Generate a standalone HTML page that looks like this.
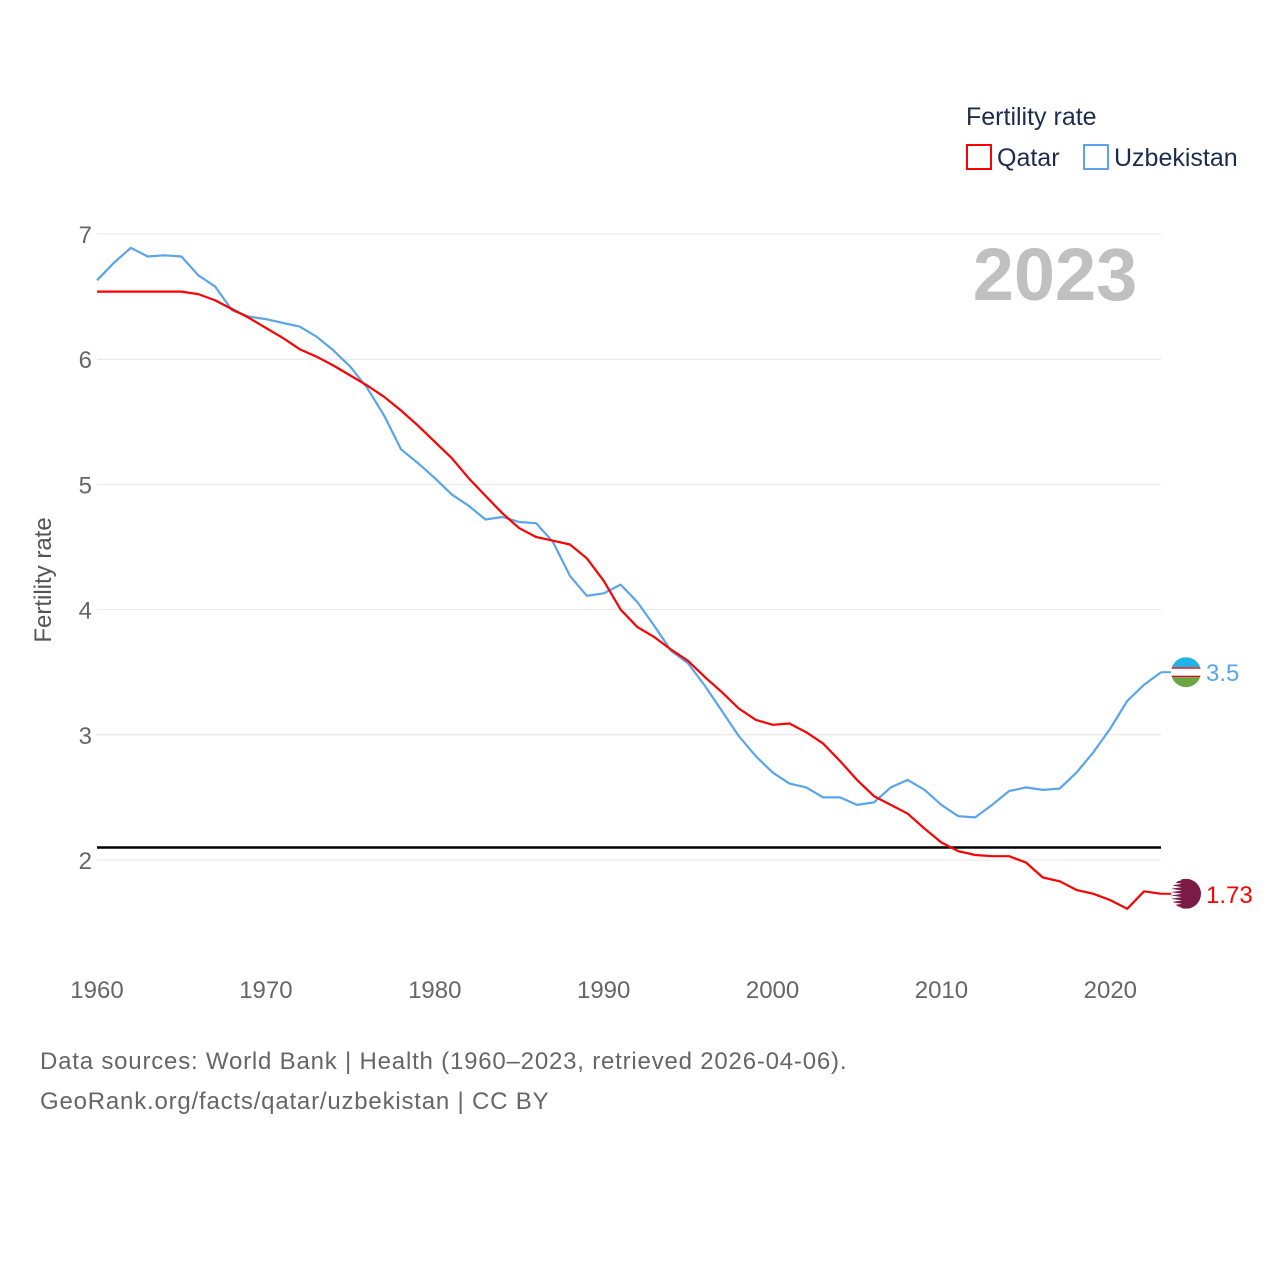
<!DOCTYPE html>
<html><head><meta charset="utf-8">
<style>
body{margin:0;background:#fff;width:1280px;height:1280px;overflow:hidden;font-family:"Liberation Sans",sans-serif;}
svg text{font-family:"Liberation Sans",sans-serif;}
</style></head>
<body>
<svg id="chart" width="1280" height="1280">
  <g id="grid"></g>
  <g id="lines"></g>
  <text x="1055" y="300" font-size="74" font-weight="bold" fill="#c0c0c0" text-anchor="middle">2023</text>
  <text x="966" y="125" font-size="25" fill="#1d2c4c">Fertility rate</text>
  <g>
    <rect x="967" y="145" width="24" height="24" fill="none" stroke="#ff0000" stroke-width="2"/>
    <text x="997" y="166" font-size="25" fill="#1d2c4c">Qatar</text>
  </g>
  <g>
    <rect x="1084" y="145" width="24" height="24" fill="none" stroke="#5aa5ea" stroke-width="2"/>
    <text x="1114" y="166" font-size="25" fill="#1d2c4c">Uzbekistan</text>
  </g>
  <text transform="translate(51,580) rotate(-90)" font-size="24" fill="#555" text-anchor="middle">Fertility rate</text>
  <text x="40" y="1069" font-size="24" fill="#666" letter-spacing="0.8">Data sources: World Bank | Health (1960–2023, retrieved 2026-04-06).</text>
  <text x="40" y="1109" font-size="24" fill="#666" letter-spacing="0.8">GeoRank.org/facts/qatar/uzbekistan | CC BY</text>
</svg>
<script>
const years = [];
for (let y = 1960; y <= 2023; y++) years.push(y);
const qatar = [6.54,6.54,6.54,6.54,6.54,6.54,6.52,6.47,6.40,6.33,6.25,6.17,6.08,6.02,5.95,5.87,5.79,5.70,5.59,5.47,5.34,5.21,5.05,4.91,4.77,4.65,4.58,4.55,4.52,4.41,4.23,4.00,3.86,3.78,3.68,3.59,3.46,3.34,3.21,3.12,3.08,3.09,3.02,2.93,2.79,2.64,2.51,2.44,2.37,2.25,2.14,2.07,2.04,2.03,2.03,1.98,1.86,1.83,1.76,1.73,1.68,1.61,1.75,1.73];
const uzbekistan = [6.63,6.77,6.89,6.82,6.83,6.82,6.67,6.58,6.39,6.34,6.32,6.29,6.26,6.18,6.07,5.94,5.77,5.55,5.28,5.17,5.05,4.92,4.83,4.72,4.74,4.70,4.69,4.54,4.27,4.11,4.13,4.20,4.06,3.87,3.67,3.57,3.39,3.19,2.99,2.83,2.70,2.61,2.58,2.50,2.50,2.44,2.46,2.58,2.64,2.56,2.44,2.35,2.34,2.44,2.55,2.58,2.56,2.57,2.70,2.86,3.05,3.27,3.40,3.50];
const yTicks = [2,3,4,5,6,7];
const xTicks = [1960,1970,1980,1990,2000,2010,2020];
const replacement = [2.1];

const NS = "http://www.w3.org/2000/svg";
const X = yr => 97 + (yr - 1960) * (1161 - 97) / 63;
const Y = v => 860 - (v - 2) * 125.2;
const grid = document.getElementById('grid');
const lines = document.getElementById('lines');
function mk(tag, attrs, parent){const e=document.createElementNS(NS,tag);for(const k in attrs)e.setAttribute(k,attrs[k]);parent.appendChild(e);return e;}

yTicks.forEach(t=>{
  const l=mk('line',{x1:97,x2:1161,y1:Y(t),y2:Y(t),stroke:'#e4e4e4','stroke-width':1},grid);
  
  
  const tx=mk('text',{x:92,y:Y(t)+9,'font-size':24,fill:'#666','text-anchor':'end'},grid);
  tx.textContent=t;
  
  
});
xTicks.forEach(t=>{
  const tx=mk('text',{x:X(t),y:998,'font-size':24,fill:'#666','text-anchor':'middle'},grid);
  tx.textContent=t;
  
  
});
replacement.forEach(v=>{
  const l=mk('line',{x1:97,x2:1161,y1:Y(v),y2:Y(v),stroke:'#000','stroke-width':2.5},grid);
  
  
});

function series(vals,color,name){
  const d=vals.map((v,i)=>(i?'L':'M')+X(years[i]).toFixed(1)+','+Y(v).toFixed(1)).join('');
  const p=mk('path',{d:d,fill:'none',stroke:color,'stroke-width':2.2,'stroke-linejoin':'round'},lines);
  
  
  const lx=X(years[years.length-1]), lv=vals[vals.length-1], ly=Y(lv);
  const c=mk('line',{x1:lx,x2:lx+15,y1:ly,y2:ly,stroke:color,'stroke-width':2},lines);
  
  
  const t=mk('text',{x:lx+45,y:ly+9,'font-size':24,fill:color},lines);
  t.textContent=lv;
  
  
  return [lx+25, ly];
}
const u=series(uzbekistan,'#5aa5ea','uzbekistan');
const q=series(qatar,'#ff0000','qatar');

const fu=document.createElementNS(NS,'g');


lines.appendChild(fu);
const cu=mk('clipPath',{id:'cu'},fu);
mk('circle',{cx:u[0],cy:u[1],r:15},cu);
const gu=mk('g',{'clip-path':'url(#cu)'},fu);
mk('rect',{x:u[0]-15,y:u[1]-15,width:30,height:10,fill:'#1eb5e6'},gu);
mk('rect',{x:u[0]-15,y:u[1]-5,width:30,height:10,fill:'#fff'},gu);
mk('rect',{x:u[0]-15,y:u[1]-5,width:30,height:1.5,fill:'#ce1126'},gu);
mk('rect',{x:u[0]-15,y:u[1]+3.5,width:30,height:1.5,fill:'#ce1126'},gu);
mk('rect',{x:u[0]-15,y:u[1]+5,width:30,height:10,fill:'#6aa642'},gu);

const fq=document.createElementNS(NS,'g');


lines.appendChild(fq);
const cq=mk('clipPath',{id:'cq'},fq);
mk('circle',{cx:q[0],cy:q[1],r:15},cq);
const gq=mk('g',{'clip-path':'url(#cq)'},fq);
mk('rect',{x:q[0]-15,y:q[1]-15,width:30,height:30,fill:'#7a1a45'},gq);
let pts=[];
for(let i=0;i<=9;i++){const yy=q[1]-15+i*30/9;pts.push((q[0]-15)+','+yy);pts.push((q[0]-4)+','+(yy+15/9));}
mk('polygon',{points:(q[0]-15)+','+(q[1]-15)+' '+pts.join(' ')+' '+(q[0]-15)+','+(q[1]+15),fill:'#fff'},gq);
</script>
</body></html>
